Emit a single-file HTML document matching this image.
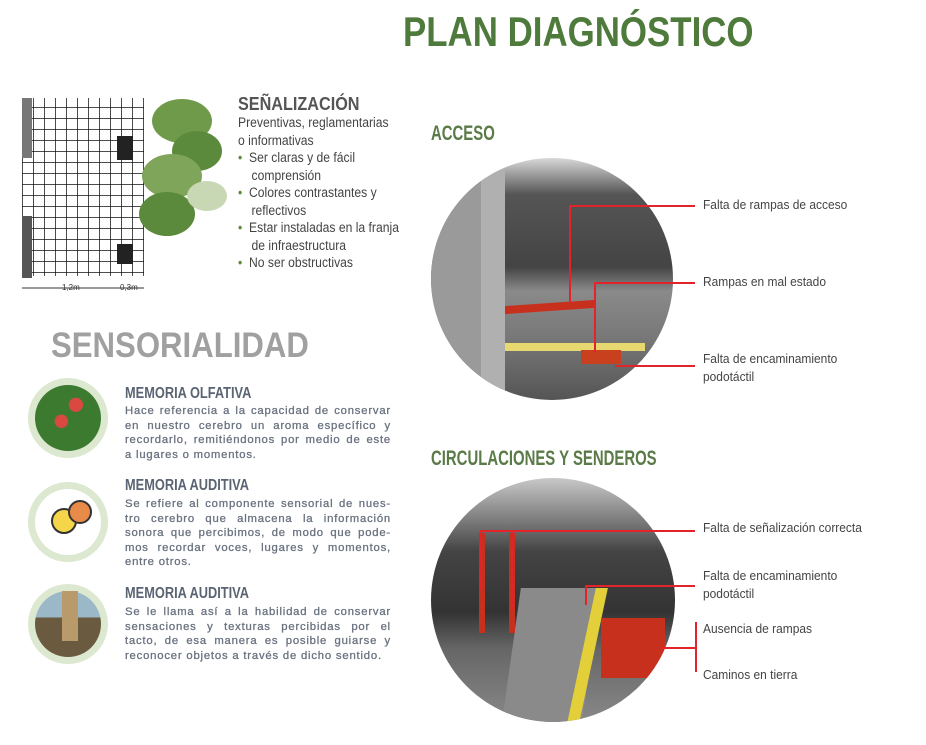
<!DOCTYPE html>
<html><head><meta charset="utf-8"><style>
body{margin:0;width:926px;height:745px;background:#fff;position:relative;overflow:hidden;font-family:"Liberation Sans",sans-serif}
.a{position:absolute}
.lab{position:absolute;font-size:13px;color:#444;line-height:18px;transform:scaleX(.92);transform-origin:left;white-space:nowrap}
.h{font-weight:bold;color:#5a6472;font-size:16px;transform:scaleX(.8);transform-origin:left;white-space:nowrap}
.p{font-size:11.3px;color:#6a7280;line-height:14.6px;text-align:justify;width:266px;letter-spacing:.8px;-webkit-text-stroke:.3px #6a7280}
.g{font-weight:bold;color:#5a7a48;font-size:21px;white-space:nowrap;transform:scaleX(.71);transform-origin:left}
.r{background:#e3232a;position:absolute}
</style></head><body>
<div class="a" style="left:403px;top:8px;font-size:42px;font-weight:bold;color:#4e7a3c;transform:scaleX(.83);transform-origin:left;white-space:nowrap">PLAN DIAGNÓSTICO</div>

<svg class="a" style="left:22px;top:96px" width="210" height="200">
<defs><pattern id="gr" width="11" height="11" patternUnits="userSpaceOnUse"><path d="M11 0H0V11" fill="none" stroke="#111" stroke-width="1.5"/></pattern></defs>
<rect x="0" y="2" width="122" height="178" fill="url(#gr)"/>
<rect x="0" y="2" width="10" height="60" fill="#777"/>
<rect x="0" y="120" width="10" height="62" fill="#555"/>
<rect x="95" y="40" width="16" height="24" fill="#222"/>
<rect x="95" y="148" width="16" height="20" fill="#222"/>
<ellipse cx="160" cy="25" rx="30" ry="22" fill="#6f9a4a"/>
<ellipse cx="175" cy="55" rx="25" ry="20" fill="#5c8a3c"/>
<ellipse cx="150" cy="80" rx="30" ry="22" fill="#7ea55a"/>
<ellipse cx="145" cy="118" rx="28" ry="22" fill="#5c8a3c"/>
<ellipse cx="185" cy="100" rx="20" ry="15" fill="#c8d8b5"/>
<line x1="0" y1="192" x2="122" y2="192" stroke="#333"/>
<text x="40" y="194" font-size="8" fill="#333">1,2m</text><text x="98" y="194" font-size="8" fill="#333">0,3m</text>
</svg>
<div class="a" style="left:238px;top:94px;font-size:18px;font-weight:bold;color:#555;transform:scaleX(.9);transform-origin:left">SEÑALIZACIÓN</div>
<div class="lab" style="left:238px;top:114px;font-size:13.5px;line-height:17.5px;transform:scaleX(.9)">Preventivas, reglamentarias<br>o informativas<br><span style="color:#5a8a3c">•</span>&nbsp; Ser claras y de fácil<br>&nbsp;&nbsp;&nbsp; comprensión<br><span style="color:#5a8a3c">•</span>&nbsp; Colores contrastantes y<br>&nbsp;&nbsp;&nbsp; reflectivos<br><span style="color:#5a8a3c">•</span>&nbsp; Estar instaladas en la franja<br>&nbsp;&nbsp;&nbsp; de infraestructura<br><span style="color:#5a8a3c">•</span>&nbsp; No ser obstructivas</div>

<div class="a" style="left:51px;top:326px;font-size:35px;font-weight:bold;color:#a0a0a0;transform:scaleX(.89);transform-origin:left;white-space:nowrap">SENSORIALIDAD</div>

<div class="a" style="left:28px;top:378px;width:80px;height:80px;border-radius:50%;background:#dce8cf"></div>
<div class="a" style="left:35px;top:385px;width:66px;height:66px;border-radius:50%;background:radial-gradient(circle at 40% 55%,#d9493f 0 12%,transparent 13%),radial-gradient(circle at 62% 30%,#d9493f 0 11%,transparent 12%),#3c7a30"></div>
<div class="a" style="left:28px;top:482px;width:80px;height:80px;border-radius:50%;background:#dce8cf"></div>
<div class="a" style="left:35px;top:489px;width:66px;height:66px;border-radius:50%;background:#fff"></div>
<div class="a" style="left:51px;top:508px;width:22px;height:22px;border-radius:50%;background:#f5d54a;border:2px solid #333"></div>
<div class="a" style="left:68px;top:500px;width:20px;height:20px;border-radius:50%;background:#e88a4a;border:2px solid #333"></div>
<div class="a" style="left:28px;top:584px;width:80px;height:80px;border-radius:50%;background:#dce8cf"></div>
<div class="a" style="left:35px;top:591px;width:66px;height:66px;border-radius:50%;background:linear-gradient(#9bb8c8 0 40%,#6a5a40 40%)"></div>
<div class="a" style="left:62px;top:591px;width:16px;height:50px;background:#b99a6a"></div>

<div class="a h" style="left:125px;top:385px">MEMORIA OLFATIVA</div>
<div class="a p" style="left:125px;top:404px">Hace referencia a la capacidad de conservar en nuestro cerebro un aroma específico y recordarlo, remitiéndonos por medio de este a lugares o momentos.</div>
<div class="a h" style="left:125px;top:477px">MEMORIA AUDITIVA</div>
<div class="a p" style="left:125px;top:497px">Se refiere al componente sensorial de nues-tro cerebro que almacena la información sonora que percibimos, de modo que pode-mos recordar voces, lugares y momentos, entre otros.</div>
<div class="a h" style="left:125px;top:585px">MEMORIA AUDITIVA</div>
<div class="a p" style="left:125px;top:605px">Se le llama así a la habilidad de conservar sensaciones y texturas percibidas por el tacto, de esa manera es posible guiarse y reconocer objetos a través de dicho sentido.</div>

<div class="a g" style="left:431px;top:122px">ACCESO</div>
<div class="a g" style="left:431px;top:447px">CIRCULACIONES Y SENDEROS</div>

<div class="a" style="left:431px;top:158px;width:242px;height:242px;border-radius:50%;overflow:hidden;background:linear-gradient(#d8d8d8 0,#555 15%,#444 45%,#8a8a8a 55%,#777 75%,#555 100%)">
 <div class="a" style="left:0;top:0;width:50px;height:242px;background:#9a9a9a"></div>
 <div class="a" style="left:50px;top:0;width:24px;height:242px;background:#b0b0b0"></div>
 <div class="a" style="left:74px;top:145px;width:90px;height:8px;background:#c8301e;transform:skewY(-4deg)"></div>
 <div class="a" style="left:74px;top:185px;width:140px;height:8px;background:#e8d870"></div>
 <div class="a" style="left:150px;top:192px;width:40px;height:14px;background:#c8401e"></div>
</div>
<div class="r" style="left:569px;top:205px;height:98px;width:2px"></div>
<div class="r" style="left:569px;top:205px;width:126px;height:2px"></div>
<div class="r" style="left:594px;top:282px;width:2px;height:70px"></div>
<div class="r" style="left:594px;top:282px;width:101px;height:2px"></div>
<div class="r" style="left:615px;top:365px;width:80px;height:2px"></div>
<div class="lab" style="left:703px;top:196px">Falta de rampas de acceso</div>
<div class="lab" style="left:703px;top:273px">Rampas en mal estado</div>
<div class="lab" style="left:703px;top:350px">Falta de encaminamiento<br>podotáctil</div>

<div class="a" style="left:431px;top:478px;width:244px;height:244px;border-radius:50%;overflow:hidden;background:linear-gradient(#c8c8c8 0,#444 30%,#333 55%,#666 70%,#888 100%)">
 <div class="a" style="left:80px;top:110px;width:80px;height:140px;background:#8a8a8a;transform:skewX(-8deg)"></div>
 <div class="a" style="left:150px;top:110px;width:12px;height:140px;background:#e2cf3a;transform:skewX(-12deg)"></div>
 <div class="a" style="left:170px;top:140px;width:64px;height:60px;background:#c8301e"></div>
 <div class="a" style="left:48px;top:55px;width:6px;height:100px;background:#c8301e"></div>
 <div class="a" style="left:78px;top:55px;width:6px;height:100px;background:#c8301e"></div>
</div>
<div class="r" style="left:480px;top:530px;width:215px;height:2px"></div>
<div class="r" style="left:480px;top:530px;width:2px;height:60px"></div>
<div class="r" style="left:511px;top:530px;width:2px;height:80px"></div>
<div class="r" style="left:585px;top:585px;width:110px;height:2px"></div>
<div class="r" style="left:585px;top:585px;width:2px;height:20px"></div>
<div class="r" style="left:695px;top:622px;width:2px;height:50px"></div>
<div class="r" style="left:660px;top:647px;width:36px;height:2px"></div>
<div class="lab" style="left:703px;top:519px">Falta de señalización correcta</div>
<div class="lab" style="left:703px;top:567px">Falta de encaminamiento<br>podotáctil</div>
<div class="lab" style="left:703px;top:620px">Ausencia de rampas</div>
<div class="lab" style="left:703px;top:666px">Caminos en tierra</div>
</body></html>
